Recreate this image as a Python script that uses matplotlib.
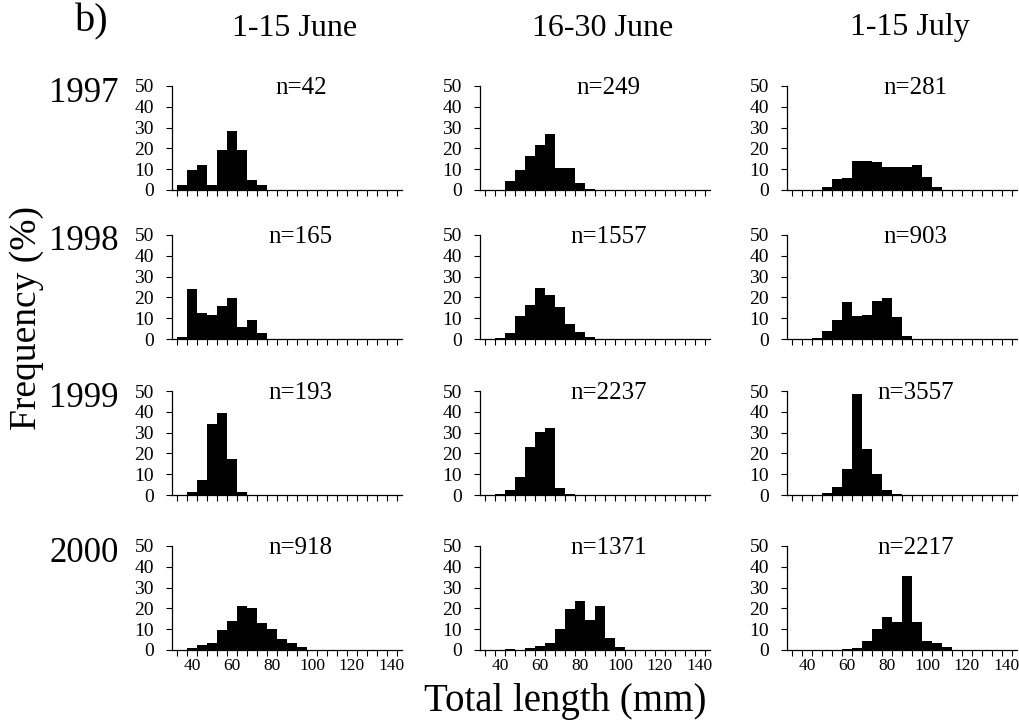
import numpy as np
import matplotlib
matplotlib.use("Agg")
import matplotlib.pyplot as plt

plt.rcParams['font.family'] = ['Liberation Serif', 'DejaVu Serif']

# length classes (mm), 5 mm bins
bin_width = 5
periods = ['1-15 June', '16-30 June', '1-15 July']
years = ['1997', '1998', '1999', '2000']

# frequency (%) per panel, starting at the given length class
# 1-15 June
jun1_start = [35, 35, 40, 40]
jun1_1997 = [2.4, 9.5, 11.9, 2.4, 19, 28.6, 19, 4.8, 2.4]
jun1_1998 = [0.8, 24.2, 12.3, 11.5, 16, 19.5, 5.7, 9, 3]
jun1_1999 = [1.6, 7, 34, 39.2, 17.3, 1.6]
jun1_2000 = [1, 2.3, 3.3, 9.6, 13.8, 21, 20.4, 12.9, 10.2, 5.2, 3.4, 1.4]
# 16-30 June
jun2_start = [45, 40, 40, 45]
jun2_1997 = [4.2, 9.5, 16.5, 21.8, 27, 10.5, 10.5, 3.2, 0.5]
jun2_1998 = [0.6, 2.7, 11, 16.4, 24.5, 21.3, 15.3, 7.3, 3.6, 1.2]
jun2_1999 = [0.6, 2.4, 8.7, 23, 30.3, 32, 3.2, 0.6]
jun2_2000 = [0.6, 0, 0.8, 1.9, 3.3, 10.3, 19.8, 23.7, 14.6, 21, 5.6, 1.6, 0.2]
# 1-15 July
jul1_start = [50, 45, 50, 60]
jul1_1997 = [1.4, 5.1, 5.9, 14.1, 13.8, 13.5, 11.2, 11.2, 10.9, 11.9, 6.4, 1.4]
jul1_1998 = [0.6, 3.8, 9.3, 17.7, 11, 11.5, 18.1, 19.7, 10.4, 1.6]
jul1_1999 = [0.8, 4, 12.3, 48.4, 22, 9.9, 2.4, 0.6]
jul1_2000 = [0.5, 1, 4.1, 10, 16, 13.7, 35.4, 13.7, 4.4, 3.2, 1.4]

n_jun1 = [42, 165, 193, 918]
n_jun2 = [249, 1557, 2237, 1371]
n_jul1 = [281, 903, 3557, 2217]

columns = [
    (jun1_start, [jun1_1997, jun1_1998, jun1_1999, jun1_2000], n_jun1),
    (jun2_start, [jun2_1997, jun2_1998, jun2_1999, jun2_2000], n_jun2),
    (jul1_start, [jul1_1997, jul1_1998, jul1_1999, jul1_2000], n_jul1),
]

W, H = 1019, 723
fig = plt.figure(figsize=(W / 100, H / 100), dpi=100)

lefts = [172, 480, 787]
ax_w = 230
tops = [86, 235, 391, 546]
ax_h = 104

edges = np.arange(32.5, 145, bin_width)
label_pos = np.arange(40, 141, 20)

for c, (starts, series, ns) in enumerate(columns):
    for r in range(4):
        x0 = lefts[c] / W
        y0 = 1 - (tops[r] + ax_h) / H
        ax = fig.add_axes([x0, y0, ax_w / W, ax_h / H])
        vals = series[r]
        centers = starts[r] + bin_width * np.arange(len(vals))
        ax.bar(centers, vals, width=bin_width, color='black', linewidth=0)
        ax.set_xlim(30, 145)
        ax.set_ylim(0, 50)
        for s in ['top', 'right']:
            ax.spines[s].set_visible(False)
        for s in ['left', 'bottom']:
            ax.spines[s].set_linewidth(0.9)
        ax.set_yticks(range(0, 51, 10))
        ax.tick_params(axis='y', direction='out', length=4, width=0.8,
                       labelsize=14, pad=9)
        ax.set_xticks(edges, minor=True)
        ax.tick_params(axis='x', which='minor', direction='out', length=4, width=0.8)
        if r == 3:
            ax.set_xticks(label_pos)
            ax.tick_params(axis='x', which='major', length=0, labelsize=12.5, pad=6)
        else:
            ax.set_xticks([])
        ax.text(0.56, 0.98, f'n={ns[r]}', transform=ax.transAxes,
                ha='center', va='center', fontsize=18)

# column headers
for c, p in enumerate(periods):
    fig.text((lefts[c] + ax_w / 2 + 8) / W, 1 - 28 / H, p, ha='center', va='center', fontsize=23)
fig.text(92 / W, 1 - 22 / H, 'b)', ha='center', va='center', fontsize=29)

# row labels
for r, y in enumerate(years):
    fig.text(119 / W, 1 - (tops[r] + 7) / H, y, ha='right', va='center', fontsize=25)

fig.text(27 / W, 1 - 318 / H, 'Frequency (%)', rotation=90, ha='center', va='center', fontsize=27)
fig.text(565 / W, 1 - 702 / H, 'Total length (mm)', ha='center', va='center', fontsize=28)

fig.savefig('out.png', dpi=100)
